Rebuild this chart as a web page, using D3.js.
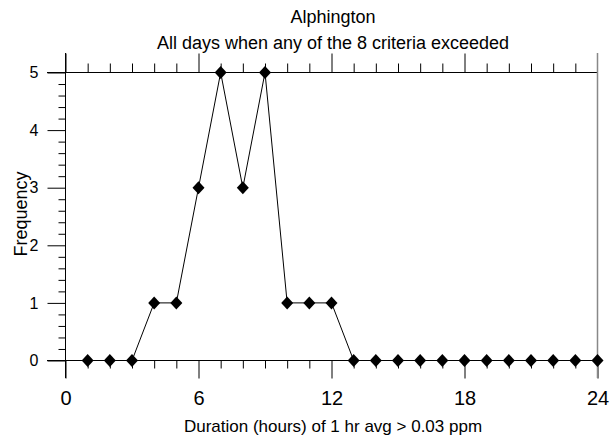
<!DOCTYPE html>
<html><head><meta charset="utf-8">
<script src="https://cdn.jsdelivr.net/npm/d3@7"></script>
<style>body{margin:0;background:#fff}svg{display:block}text{font-family:Arial,"Liberation Sans",sans-serif;fill:#000}</style>
</head><body>
<svg id="c" width="615" height="441"></svg>
<script>
const title1 = "Alphington";
const title2 = "All days when any of the 8 criteria exceeded";
const xLabel = "Duration (hours) of 1 hr avg > 0.03 ppm";
const yLabel = "Frequency";
const hours = [1,2,3,4,5,6,7,8,9,10,11,12,13,14,15,16,17,18,19,20,21,22,23,24];
const freq  = [0,0,0,1,1,3,5,3,5,1,1,1,0,0,0,0,0,0,0,0,0,0,0,0];
const xTicks = [0,6,12,18,24];
const yTicks = [0,1,2,3,4,5];

const svg = d3.select("#c");
const L=65.5, R=597.5, T=72.5, B=360.5;
const x = d3.scaleLinear().domain([0,24]).range([L,R]);
const y = d3.scaleLinear().domain([0,5]).range([B,T]);
const FF = "Arial, 'Liberation Sans', sans-serif";

// titles
svg.append("text").attr("x",333).attr("y",23).attr("text-anchor","middle").style("font-size","18px").text(title1);
svg.append("text").attr("x",333).attr("y",49).attr("text-anchor","middle").style("font-size","18px").text(title2);

// bottom axis
const bx = svg.append("g").attr("transform",`translate(0,${B})`)
  .call(d3.axisBottom(x).tickValues(d3.range(0,25,1)).tickSize(8).tickFormat(""));
bx.select(".domain").remove();
bx.selectAll(".tick line").filter(d=>d%6===0).attr("y2",18);
svg.append("line").attr("x1",47).attr("x2",R).attr("y1",B).attr("y2",B).attr("stroke","#000");
const bl = svg.append("g").attr("transform",`translate(0,${B})`)
  .call(d3.axisBottom(x).tickValues(xTicks).tickSize(0).tickPadding(30));
bl.select(".domain").remove();
bl.selectAll("text").style("font-size","20px").style("font-family",FF);

// top axis
const tx = svg.append("g").attr("transform",`translate(0,${T})`)
  .call(d3.axisTop(x).tickValues(d3.range(0,24,1)).tickSize(9).tickFormat(""));
tx.select(".domain").remove();
tx.selectAll(".tick line").filter(d=>d%6===0).attr("y2",-19);
svg.append("line").attr("x1",47).attr("x2",R).attr("y1",T).attr("y2",T).attr("stroke","#000");

// left axis
const ly = svg.append("g").attr("transform",`translate(${L},0)`)
  .call(d3.axisLeft(y).tickValues(d3.range(0,5.01,0.2).map(v=>+v.toFixed(1))).tickSize(7).tickFormat(""));
ly.select(".domain").remove();
ly.selectAll(".tick line").filter(d=>Math.abs(d-Math.round(d))<1e-6).attr("x2",-18);
const lyl = svg.append("g").attr("transform",`translate(${L},0)`)
  .call(d3.axisLeft(y).tickValues(yTicks).tickSize(0).tickPadding(27).tickFormat(d3.format("d")));
lyl.select(".domain").remove();
lyl.selectAll("text").style("font-size","16px").style("font-family",FF);
svg.append("line").attr("x1",L).attr("x2",L).attr("y1",53).attr("y2",378).attr("stroke","#000");

// right border
svg.append("line").attr("x1",R).attr("x2",R).attr("y1",53).attr("y2",378).attr("stroke","#888").attr("stroke-width",1.5);

// axis labels
svg.append("text").attr("x",333).attr("y",432).attr("text-anchor","middle").style("font-size","17px").text(xLabel);
svg.append("text").attr("transform",`translate(27,214) rotate(-90)`).attr("text-anchor","middle").style("font-size","18px").text(yLabel);

// series
const data = hours.map((h,i)=>({h,v:freq[i]}));
svg.append("path").datum(data).attr("fill","none").attr("stroke","#000").attr("stroke-width",1)
  .attr("d",d3.line().x(d=>x(d.h)).y(d=>y(d.v)));
svg.selectAll(".pt").data(data).enter().append("path")
  .attr("transform",d=>`translate(${x(d.h)},${y(d.v)})`)
  .attr("d","M0,-6.5L6,0L0,6.5L-6,0Z").attr("fill","#000");
</script>
</body></html>
